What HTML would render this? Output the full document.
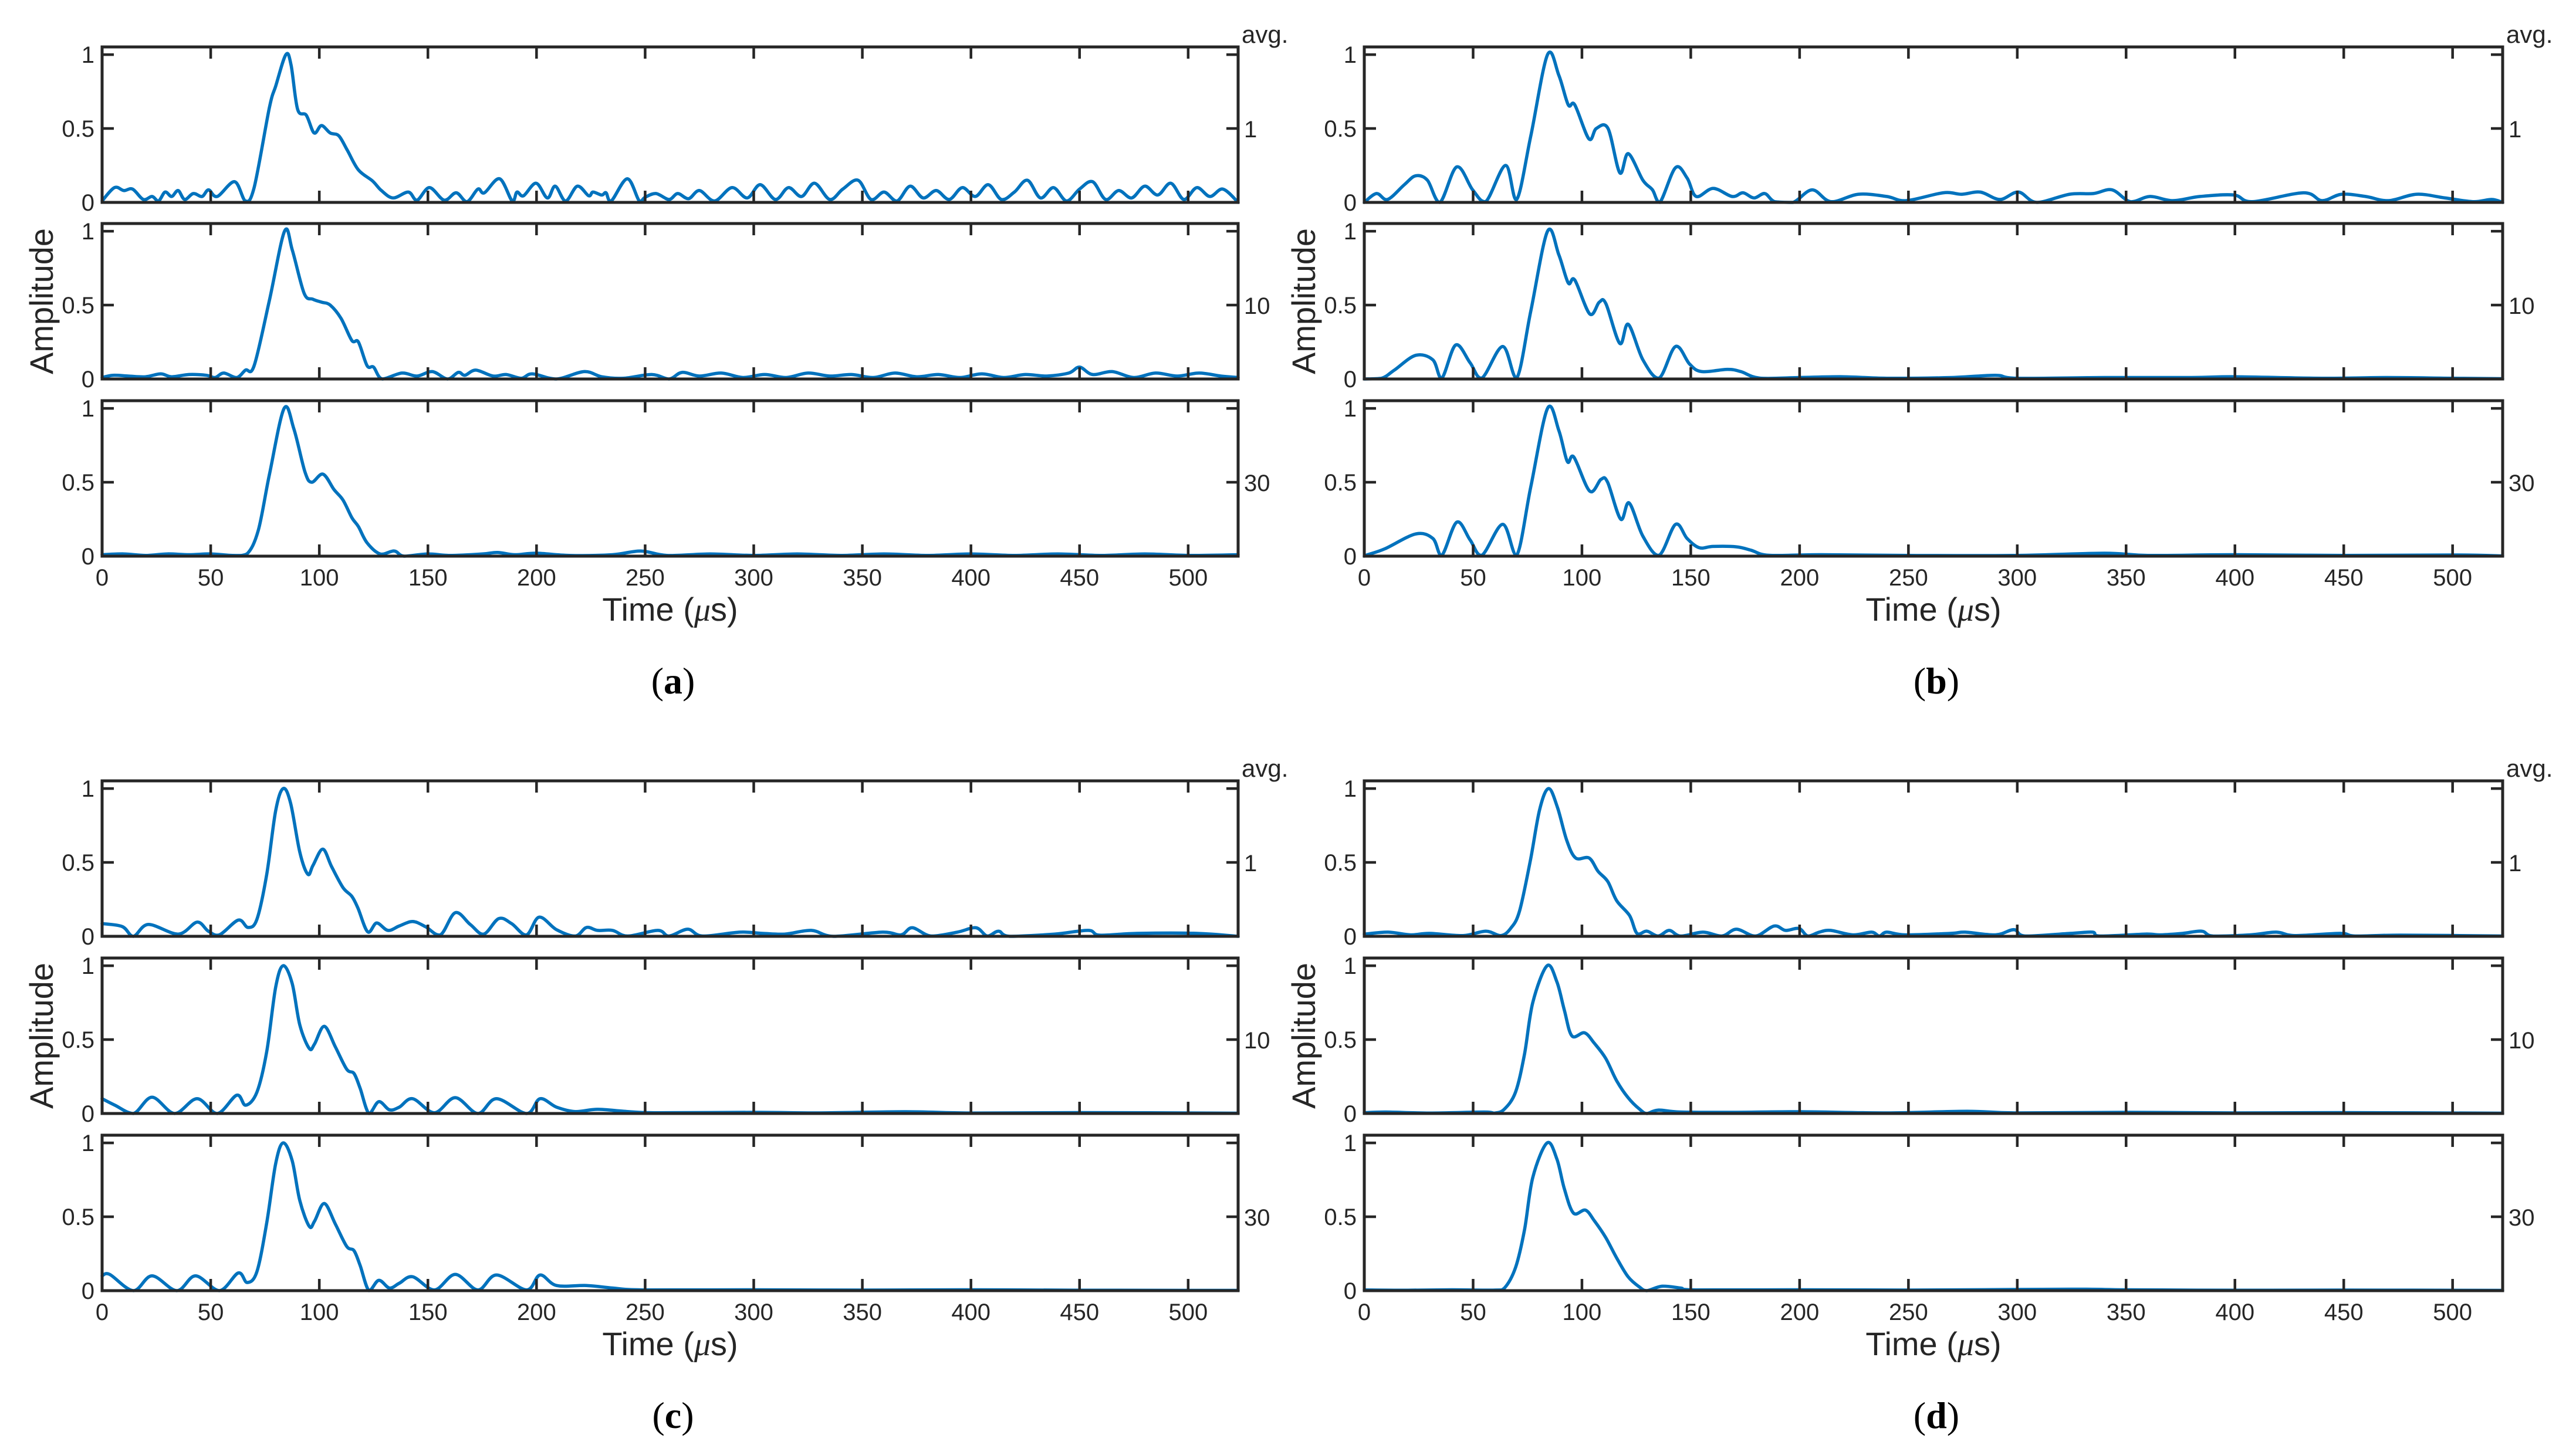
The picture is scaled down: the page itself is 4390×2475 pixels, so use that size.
<!DOCTYPE html>
<html><head><meta charset="utf-8">
<style>
html,body{margin:0;padding:0;background:#fff;}
svg{display:block;}
text{font-family:"Liberation Sans",Arial,sans-serif;fill:#262626;}
</style></head>
<body>
<svg id="fig" width="4390" height="2475" viewBox="0 0 4390 2475" xmlns="http://www.w3.org/2000/svg"></svg>
<script>
// ---------- data: [time_us, amplitude] knots ----------
const xTicks = [0,50,100,150,200,250,300,350,400,450,500];
const yTicks = [0,0.5,1];
const yTickLabels = ["0","0.5","1"];
const avgLabels = ["1","10","30"];
const panelLetters = ["a","b","c","d"];

const a1 = [[0,0.01],[5.7,0.1],[10,0.08],[14,0.09],[19,0.02],[23,0.04],[26,0.01],[29,0.07],[32,0.04],[35,0.08],[38,0.02],[42,0.06],[46,0.04],[49,0.085],[53,0.04],[61,0.14],[66,0.01],[70,0.1],[77,0.64],[80,0.79],[84.6,1.0],[87,0.93],[90,0.63],[94,0.59],[97.6,0.47],[101,0.52],[105,0.47],[109,0.45],[113,0.35],[118,0.22],[124.5,0.145],[128.6,0.08],[134,0.03],[141,0.07],[145,0.015],[150.7,0.1],[157.5,0.015],[163,0.065],[168,0.005],[173,0.09],[176,0.065],[183,0.16],[188.8,0.01],[191,0.07],[194,0.045],[199.8,0.13],[205,0.03],[208.6,0.11],[213.4,0.01],[218.8,0.11],[224,0.045],[226,0.07],[230,0.05],[232,0.065],[234.4,0.01],[241.8,0.16],[247.3,0.01],[250,0.035],[255,0.06],[261,0.02],[265,0.06],[270,0.025],[275,0.08],[282,0.01],[290,0.1],[297,0.03],[303,0.12],[310,0.02],[316,0.1],[322,0.04],[328,0.13],[335,0.02],[341,0.09],[348,0.15],[354,0.02],[360,0.07],[366,0.01],[372,0.11],[378,0.03],[384,0.08],[390,0.02],[396,0.1],[402,0.04],[408,0.12],[414,0.02],[420,0.07],[426,0.15],[432,0.03],[438,0.1],[444,0.01],[450,0.09],[456,0.14],[462,0.02],[468,0.08],[474,0.03],[480,0.11],[486,0.05],[492,0.13],[498,0.02],[504,0.1],[510,0.04],[516,0.09],[523,0.0]];
const a2 = [[0,0.01],[5,0.025],[12,0.02],[20,0.015],[27,0.035],[32,0.015],[40,0.03],[48,0.025],[52,0.01],[56,0.04],[62,0.01],[66,0.06],[70,0.09],[77,0.53],[84,1.0],[87.6,0.87],[93,0.58],[97,0.54],[101,0.52],[105,0.5],[110,0.41],[115,0.26],[118,0.25],[122,0.09],[125,0.08],[129,0.0],[138,0.04],[145,0.02],[152,0.05],[159,0.0],[164,0.045],[167,0.025],[172,0.06],[180,0.02],[186,0.03],[193,0.005],[198,0.035],[209,0.0],[222,0.05],[230,0.015],[240,0.005],[253,0.03],[261,0.0],[267,0.045],[275,0.02],[285,0.04],[295,0.01],[305,0.03],[315,0.01],[325,0.04],[335,0.02],[345,0.03],[355,0.01],[365,0.04],[375,0.015],[385,0.03],[395,0.01],[405,0.035],[415,0.01],[425,0.03],[435,0.02],[445,0.04],[450,0.08],[456,0.03],[465,0.05],[475,0.01],[485,0.04],[495,0.02],[505,0.04],[515,0.02],[523,0.01]];
const a3 = [[0,0.01],[10,0.015],[20,0.005],[30,0.015],[40,0.01],[50,0.015],[60,0.005],[66.7,0.015],[71.9,0.175],[77,0.55],[83.8,1.0],[88.3,0.86],[93.4,0.57],[96.5,0.5],[101.7,0.555],[106.8,0.45],[110.9,0.38],[115,0.26],[118,0.2],[122,0.09],[128,0.015],[134.5,0.035],[139,0.0],[150,0.015],[160,0.005],[175,0.015],[182,0.025],[190,0.01],[200,0.02],[215,0.005],[235,0.01],[248,0.035],[260,0.005],[280,0.015],[300,0.005],[320,0.015],[340,0.005],[360,0.015],[380,0.005],[400,0.015],[420,0.005],[440,0.015],[460,0.005],[480,0.015],[500,0.005],[523,0.01]];
const b1 = [[0,0.0],[5.6,0.06],[10.7,0.02],[18.4,0.12],[23.6,0.18],[29,0.15],[34.7,0.0],[42.5,0.24],[49.8,0.085],[55.8,0.005],[64.9,0.25],[70,0.02],[76.5,0.45],[84.2,1.0],[89.4,0.86],[93.7,0.66],[96.7,0.66],[103.2,0.43],[106.6,0.5],[112,0.5],[117.4,0.2],[121.3,0.33],[128,0.15],[132.4,0.085],[135.8,0.0],[143,0.235],[148.3,0.165],[152.5,0.04],[160.3,0.095],[169,0.04],[174,0.065],[179,0.03],[184,0.06],[188.5,0.005],[197,0.0],[205.8,0.085],[214.4,0.005],[227,0.055],[240,0.04],[249,0.012],[266,0.065],[274.6,0.055],[283,0.07],[292,0.02],[300.5,0.07],[309,0.0],[324,0.055],[335,0.06],[343.5,0.085],[352,0.005],[361,0.04],[371.5,0.012],[384,0.04],[399.5,0.05],[408,0.005],[431.5,0.065],[440,0.012],[449,0.055],[460,0.04],[470.6,0.012],[483.5,0.055],[496.5,0.03],[509.4,0.005],[518,0.02],[523,0.0]];
const b2 = [[0,0.0],[8,0.005],[13.8,0.06],[23.6,0.16],[31.5,0.13],[35.6,0.006],[42,0.23],[48.6,0.11],[54,0.006],[63.6,0.22],[70,0.006],[76.5,0.46],[84.2,1.0],[89.4,0.84],[93.7,0.65],[96.7,0.67],[103.6,0.44],[108,0.52],[111,0.51],[117.4,0.24],[121.3,0.37],[128,0.13],[135.4,0.006],[143,0.22],[149.5,0.1],[155,0.05],[166.8,0.065],[173,0.05],[181.7,0.006],[200,0.01],[220,0.015],[240,0.005],[270,0.01],[290,0.025],[300,0.005],[340,0.01],[380,0.01],[400,0.015],[440,0.005],[470,0.01],[500,0.005],[523,0.002]];
const b3 = [[0,0.0],[1.6,0.01],[9.5,0.05],[23.6,0.15],[31.5,0.12],[35.6,0.006],[42.5,0.23],[48.6,0.11],[54,0.006],[63.6,0.215],[70,0.006],[76.5,0.47],[84.2,1.0],[89.4,0.85],[93.3,0.64],[96.3,0.67],[103.6,0.44],[108.8,0.52],[111.8,0.5],[117.8,0.25],[121.7,0.36],[128,0.135],[135.4,0.006],[143,0.215],[148.3,0.12],[153.9,0.057],[160.3,0.066],[171,0.063],[177.7,0.04],[186,0.006],[210,0.01],[250,0.005],[300,0.005],[340,0.02],[360,0.005],[400,0.01],[450,0.005],[500,0.008],[523,0.002]];
const c1 = [[0,0.086],[9.3,0.066],[14.4,0.0],[21.3,0.08],[35.1,0.015],[43.7,0.096],[48.9,0.035],[54,0.01],[62.7,0.11],[67.2,0.06],[71.3,0.116],[75.8,0.42],[79.9,0.85],[83.4,1.0],[86.8,0.9],[91,0.57],[94.7,0.42],[97.1,0.48],[101.6,0.59],[105.7,0.47],[110.9,0.33],[115,0.27],[117.8,0.19],[122.3,0.03],[126.4,0.09],[131.6,0.04],[136.8,0.07],[143,0.1],[148.8,0.066],[155.7,0.01],[162.6,0.16],[169.5,0.08],[175.7,0.015],[182.6,0.12],[188.5,0.086],[195.4,0.01],[201.2,0.13],[209.2,0.045],[217.8,0.002],[223,0.06],[228.1,0.04],[235,0.04],[242,0.002],[255.8,0.04],[261,0.002],[269.6,0.048],[276.5,0.002],[293.7,0.028],[304,0.02],[314.4,0.015],[326.5,0.04],[336.8,0.0],[359.2,0.028],[367.8,0.01],[373,0.058],[381.6,0.002],[393.7,0.028],[402.3,0.058],[407.5,0.002],[412.7,0.035],[417.9,0.0],[438.5,0.015],[454,0.04],[459.3,0.008],[476.5,0.02],[504,0.02],[523,0.0]];
const c2 = [[0,0.1],[5.9,0.056],[14.4,0.0],[23,0.11],[33.4,0.0],[43.7,0.1],[53,0.0],[62,0.124],[66.1,0.056],[71.3,0.145],[75.8,0.42],[79.9,0.855],[83.4,1.0],[87.5,0.88],[91,0.6],[95.4,0.44],[97.8,0.47],[102.3,0.59],[107.4,0.45],[112.6,0.3],[116,0.27],[118.8,0.17],[122.9,0.0],[127.4,0.08],[132.3,0.025],[136.8,0.043],[143,0.1],[153,0.005],[162.6,0.107],[173,0.0],[181.6,0.1],[195.4,0.0],[201.6,0.1],[209.2,0.043],[217.8,0.013],[228.1,0.028],[242,0.013],[255.8,0.005],[300,0.008],[330,0.004],[370,0.012],[400,0.003],[450,0.006],[523,0.002]];
const c3 = [[0,0.1],[3.5,0.11],[14.4,0.0],[23,0.1],[34.4,0.0],[43,0.1],[54,0.0],[62.7,0.12],[66.8,0.055],[71.3,0.13],[75.8,0.46],[79.9,0.86],[83.4,1.0],[87.5,0.88],[91,0.61],[95.4,0.435],[97.8,0.47],[102.3,0.59],[107.4,0.45],[112.6,0.3],[116,0.27],[118.8,0.17],[122.9,0.0],[127.4,0.07],[132.3,0.018],[136.8,0.05],[143,0.094],[153,0.005],[162.6,0.11],[173,0.005],[181.6,0.106],[195.4,0.005],[201.6,0.106],[209.2,0.035],[223,0.035],[235,0.018],[248.7,0.005],[300,0.006],[350,0.004],[400,0.006],[450,0.003],[523,0.002]];
const d1 = [[0,0.015],[11,0.028],[21.3,0.01],[30,0.02],[45.4,0.005],[55.8,0.035],[62.7,0.005],[67.2,0.053],[71.3,0.17],[76.4,0.52],[80.6,0.86],[84.7,1.0],[88.8,0.87],[93,0.65],[97.1,0.53],[103.3,0.53],[107.4,0.44],[111.9,0.37],[116,0.24],[121.9,0.14],[125.3,0.02],[129.8,0.035],[135,0.002],[140.1,0.04],[145.3,0.002],[155.6,0.028],[164.3,0.002],[171,0.048],[179.7,0.002],[188.3,0.07],[193.5,0.04],[199.7,0.053],[203.8,0.002],[209,0.028],[214.2,0.04],[224.5,0.01],[233.1,0.028],[236.6,0.002],[240,0.028],[248.6,0.01],[269.3,0.02],[276.1,0.028],[290,0.01],[298.5,0.045],[303.7,0.002],[324.3,0.02],[334.6,0.028],[338,0.002],[358.8,0.015],[365.7,0.01],[376,0.02],[384.7,0.035],[389.9,0.002],[407,0.01],[419,0.028],[427.6,0.005],[448.4,0.02],[455.3,0.002],[476,0.008],[523,0.002]];
const d2 = [[0,0.005],[10,0.01],[30,0.003],[55,0.01],[60,0.003],[64.4,0.03],[69.5,0.145],[73.6,0.4],[77.4,0.75],[84,1.0],[88.5,0.89],[91.9,0.7],[95.4,0.525],[101.2,0.546],[105.7,0.475],[110.9,0.373],[116,0.22],[121.2,0.107],[126.4,0.03],[129.8,0.0],[135,0.023],[145.3,0.01],[170,0.008],[200,0.012],[240,0.004],[277,0.015],[300,0.004],[350,0.008],[400,0.004],[450,0.006],[523,0.002]];
const d3 = [[0,0.005],[20,0.003],[40,0.006],[60,0.004],[64.4,0.018],[69.5,0.157],[73.6,0.41],[77.4,0.765],[84,1.0],[88.5,0.89],[91.9,0.69],[96.1,0.525],[101.6,0.545],[105.7,0.473],[110.9,0.36],[116,0.22],[121.2,0.094],[126.4,0.025],[129.8,0.0],[136.8,0.03],[145.3,0.018],[152.2,0.005],[200,0.006],[250,0.004],[325,0.01],[350,0.006],[400,0.003],[450,0.004],[523,0.002]];
const panelSeries = [[a1,a2,a3],[b1,b2,b3],[c1,c2,c3],[d1,d2,d3]];

// ---------- layout ----------
const svg = document.getElementById('fig');
const NS = 'http://www.w3.org/2000/svg';
const X_MAX = 523, Y_MAX = 1.052;
const panelX = [[174,2110],[2325,4265],[174,2110],[2325,4265]];
const panelTops = [[80,381,683],[80,381,683],[1331,1633,1935],[1331,1633,1935]];
const PH = 265;

function mk(tag, attrs, parent){
  const e = document.createElementNS(NS, tag);
  for (const k in attrs) e.setAttribute(k, attrs[k]);
  (parent||svg).appendChild(e);
  return e;
}

// smooth path through pixel points (Catmull-Rom -> cubic Bezier), control y clamped to baseline
function smoothPath(pts, yLimit){
  let d = 'M' + pts[0][0].toFixed(1) + ' ' + pts[0][1].toFixed(1);
  for (let i = 0; i < pts.length - 1; i++){
    const p0 = pts[Math.max(0, i - 1)], p1 = pts[i], p2 = pts[i + 1], p3 = pts[Math.min(pts.length - 1, i + 2)];
    const k = 1 / 6;
    const c1x = p1[0] + (p2[0] - p0[0]) * k, c1y = Math.min(yLimit, p1[1] + (p2[1] - p0[1]) * k);
    const c2x = p2[0] - (p3[0] - p1[0]) * k, c2y = Math.min(yLimit, p2[1] - (p3[1] - p1[1]) * k);
    d += 'C' + c1x.toFixed(1) + ' ' + c1y.toFixed(1) + ' ' + c2x.toFixed(1) + ' ' + c2y.toFixed(1) + ' ' + p2[0].toFixed(1) + ' ' + p2[1].toFixed(1);
  }
  return d;
}

panelSeries.forEach((series, p) => {
  const [x0, x1] = panelX[p];
  const g = mk('g', {});
  
  
  const xs = t => x0 + (t / X_MAX) * (x1 - x0);
  series.forEach((data, r) => {
    const top = panelTops[p][r], bot = top + PH;
    const ys = v => bot - (v / Y_MAX) * PH;
    const sg = mk('g', {}, g);
    
    
    const pts = data.map(pt => [xs(pt[0]), ys(pt[1])]);
    const path = mk('path', {d: smoothPath(pts, bot), fill: 'none', stroke: '#0072BD', 'stroke-width': 5.5, 'stroke-linejoin': 'round', 'stroke-linecap': 'round'}, sg);
    
    
    xTicks.forEach(t => {
      const x = xs(t);
      mk('line', {x1: x, x2: x, y1: top, y2: top + 20, stroke: '#262626', 'stroke-width': 4.5}, sg);
      mk('line', {x1: x, x2: x, y1: bot, y2: bot - 20, stroke: '#262626', 'stroke-width': 4.5}, sg);
    });
    yTicks.forEach((v, i) => {
      const y = ys(v);
      mk('line', {x1: x0, x2: x0 + 20, y1: y, y2: y, stroke: '#262626', 'stroke-width': 4.5}, sg);
      mk('line', {x1: x1, x2: x1 - 20, y1: y, y2: y, stroke: '#262626', 'stroke-width': 4.5}, sg);
      const tl = mk('text', {x: x0 - 13, y: y + 14, 'font-size': 40, 'text-anchor': 'end'}, sg);
      tl.textContent = yTickLabels[i];
      
      
    });
    const fr = mk('rect', {x: x0, y: top, width: x1 - x0, height: PH, fill: 'none', stroke: '#262626', 'stroke-width': 5}, sg);
    
    
    const rl = mk('text', {x: x1 + 10, y: ys(0.5) + 15, 'font-size': 40}, sg);
    rl.textContent = avgLabels[r];
    
    
    if (r === 0) {
      const av = mk('text', {x: x1 + 6, y: top - 7, 'font-size': 42}, sg);
      av.textContent = 'avg.';
      
      
    }
    if (r === 2) {
      xTicks.forEach(t => {
        const xl = mk('text', {x: xs(t), y: bot + 50, 'font-size': 40, 'text-anchor': 'middle'}, sg);
        xl.textContent = String(t);
        
        
      });
    }
  });
  const midTop = panelTops[p][1];
  const cx = (x0 + x1) / 2;
  const ax = x0 - 84, ay = midTop + PH / 2;
  const yt = mk('text', {x: ax, y: ay, 'font-size': 56, 'text-anchor': 'middle', transform: 'rotate(-90 ' + ax + ' ' + ay + ')'}, g);
  yt.textContent = 'Amplitude';
  
  
  const bot3 = panelTops[p][2] + PH;
  const xt = mk('text', {x: cx, y: bot3 + 110, 'font-size': 56, 'text-anchor': 'middle'}, g);
  xt.innerHTML = 'Time (<tspan font-style="italic" font-family="Liberation Serif, serif">μ</tspan>s)';
  
  
  const pl = mk('text', {x: cx + 5, y: bot3 + 234, 'font-size': 64, 'text-anchor': 'middle', style: 'font-family:"Liberation Serif",serif;fill:#000'}, g);
  pl.innerHTML = '(<tspan font-weight="bold">' + panelLetters[p] + '</tspan>)';
  
  
});
</script>
</body></html>
